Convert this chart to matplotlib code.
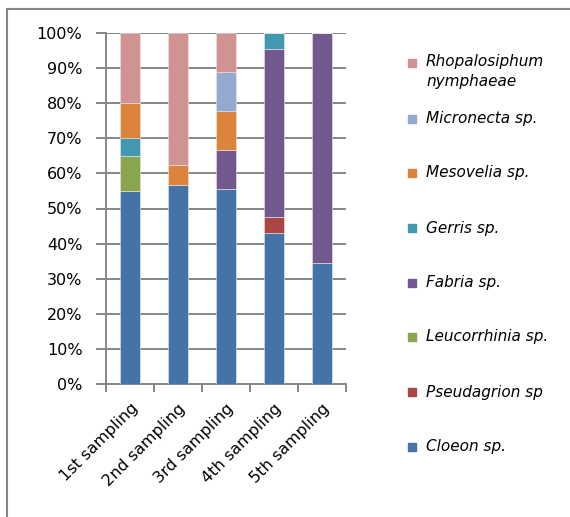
import numpy as np
import matplotlib
matplotlib.use("Agg")
import matplotlib.pyplot as plt
import matplotlib.patches as mpatches
from matplotlib.ticker import PercentFormatter

# relative abundance (%) of each taxon per sampling
samplings = ["1st sampling", "2nd sampling", "3rd sampling", "4th sampling", "5th sampling"]

cloeon = [55.0, 56.7, 55.6, 42.9, 34.6]
pseudagrion = [0.0, 0.0, 0.0, 4.8, 0.0]
leucorrhinia = [10.0, 0.0, 0.0, 0.0, 0.0]
fabria = [0.0, 0.0, 11.1, 47.6, 65.4]
gerris = [5.0, 0.0, 0.0, 4.7, 0.0]
mesovelia = [10.0, 5.6, 11.1, 0.0, 0.0]
micronecta = [0.0, 0.0, 11.1, 0.0, 0.0]
rhopalosiphum = [20.0, 37.7, 11.1, 0.0, 0.0]

species = ["Cloeon sp.", "Pseudagrion sp", "Leucorrhinia sp.", "Fabria sp.",
           "Gerris sp.", "Mesovelia sp.", "Micronecta sp.", "Rhopalosiphum\nnymphaeae"]
series = [cloeon, pseudagrion, leucorrhinia, fabria, gerris, mesovelia, micronecta, rhopalosiphum]
colors = ["#4572A7", "#AA4643", "#89A54E", "#71588F",
          "#4198AF", "#DB843D", "#93A9CF", "#D19392"]

grey = "#868686"
W, H = 570, 517

fig = plt.figure(figsize=(W / 100, H / 100), dpi=100)
ax = fig.add_axes([106 / W, 1 - 384 / H, (346 - 106) / W, (384 - 33) / H])

x = np.arange(len(samplings))
bottom = np.zeros(len(samplings))
for vals, c in zip(series, colors):
    vals = np.array(vals)
    ax.bar(x, vals, width=0.4, bottom=bottom, color=c, edgecolor="#e8e8e8",
           linewidth=0.4, zorder=3)
    bottom += vals

ax.set_xlim(-0.5, len(samplings) - 0.5)
ax.set_ylim(0, 100)
ax.set_yticks(np.arange(0, 101, 10))
ax.yaxis.set_major_formatter(PercentFormatter(decimals=0))
ax.grid(axis="y", color=grey, linewidth=1.4, zorder=0)

for side in ["top", "right"]:
    ax.spines[side].set_visible(False)
for side in ["left", "bottom"]:
    ax.spines[side].set_color(grey)
    ax.spines[side].set_linewidth(1.4)

ax.tick_params(axis="y", length=7, width=1.4, color=grey, labelsize=11.5, pad=10,
               labelcolor="black")
ax.set_xticks(x)
ax.set_xticklabels(samplings, rotation=45, ha="right", rotation_mode="anchor",
                   fontsize=11.5)
ax.tick_params(axis="x", which="major", length=0, pad=12)
ax.set_xticks(np.arange(-0.5, len(samplings)), minor=True)
ax.tick_params(axis="x", which="minor", length=6, width=1.4, color=grey)

# legend drawn by hand, top entry first; marker sits on the first text line
legend_y = [63, 119, 173, 228, 283, 337, 392, 447]
for name, c, yy in zip(species[::-1], colors[::-1], legend_y):
    fig.patches.append(mpatches.Rectangle((408 / W, 1 - (yy + 4) / H), 8 / W, 8 / H,
                                          transform=fig.transFigure, color=c))
    if "\n" in name:
        fig.text(426 / W, 1 - (yy - 9) / H, name, fontsize=11, style="italic",
                 va="top", ha="left", linespacing=1.45)
    else:
        fig.text(426 / W, 1 - yy / H, name, fontsize=11, style="italic",
                 va="center", ha="left")

# chart border
fig.patches.append(mpatches.Rectangle((7 / W, -0.1), 1.2, 1 - 9 / H + 0.1,
                                      transform=fig.transFigure, fill=False,
                                      edgecolor=grey, linewidth=1.5))

fig.savefig("out.png", dpi=100)
